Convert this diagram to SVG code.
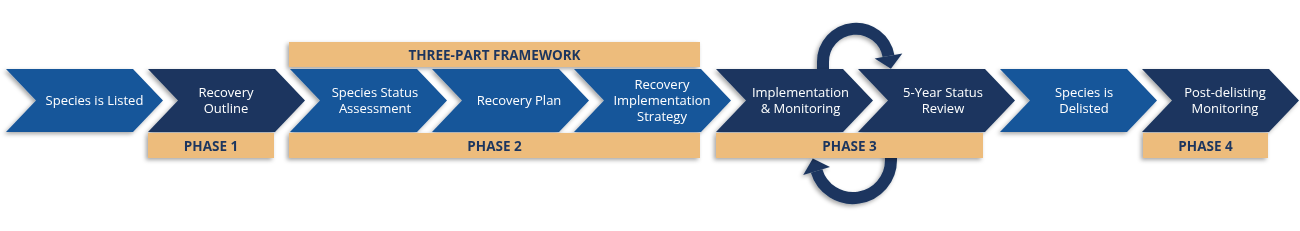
<svg xmlns="http://www.w3.org/2000/svg" width="1300" height="231" viewBox="0 0 1300 231">
<style>
.lt{fill:#17569a}
.dk{fill:#1b365f}
.gold{fill:#edbc7c}
.t{font-family:"Open Sans","Noto Sans",sans-serif;font-size:13px;fill:#ffffff;text-anchor:middle}
.p{font-family:"Open Sans","Noto Sans",sans-serif;font-size:13.5px;font-weight:bold;fill:#1b365f;text-anchor:middle}
.arc{fill:none;stroke:#1b365f;stroke-width:12}
</style>
<defs>
<filter id="sh" x="-10%" y="-20%" width="120%" height="150%">
<feDropShadow dx="-2" dy="2" stdDeviation="2" flood-color="#000000" flood-opacity="0.35"/>
</filter>
<path id="chev" d="M0,69 L127,69 L157,100.5 L127,132 L0,132 L30,100.5 Z"/>
</defs>
<rect width="1300" height="231" fill="#ffffff"/>
<g id="connectors" filter="url(#sh)">
<path class="arc" d="M823,74 L823,62 A33,33 0 0 1 888.5,56"/>
<polygon fill="#1b365f" points="874.7,58.5 902.3,53.5 890.9,68.8"/>
<path class="arc" d="M891,154 L891,160 A38,38 0 0 1 816.6,171"/>
<polygon fill="#1b365f" points="803.2,175 830,167 812.8,158.6"/>
</g>
<g id="framework" filter="url(#sh)">
<rect class="gold" x="289" y="42" width="411" height="25"/>
<text class="p" x="494.5" y="59.5">THREE-PART FRAMEWORK</text>
</g>
<g id="n1" filter="url(#sh)">
<use href="#chev" class="lt" x="6"/>
<text class="t" x="94.5" y="105">Species is Listed</text>
</g>
<g id="n2" filter="url(#sh)">
<use href="#chev" class="dk" x="148"/>
<text class="t" x="226" y="97">Recovery</text>
<text class="t" x="226" y="113">Outline</text>
</g>
<g id="n3" filter="url(#sh)">
<use href="#chev" class="lt" x="290"/>
<text class="t" x="375" y="97">Species Status</text>
<text class="t" x="375" y="113">Assessment</text>
</g>
<g id="n4" filter="url(#sh)">
<use href="#chev" class="lt" x="432"/>
<text class="t" x="519" y="105">Recovery Plan</text>
</g>
<g id="n5" filter="url(#sh)">
<use href="#chev" class="lt" x="574"/>
<text class="t" x="662" y="89">Recovery</text>
<text class="t" x="662" y="105">Implementation</text>
<text class="t" x="662" y="121">Strategy</text>
</g>
<g id="n6" filter="url(#sh)">
<use href="#chev" class="dk" x="716"/>
<text class="t" x="800.5" y="97">Implementation</text>
<text class="t" x="800.5" y="113">&amp; Monitoring</text>
</g>
<g id="n7" filter="url(#sh)">
<use href="#chev" class="dk" x="858"/>
<text class="t" x="943" y="97">5-Year Status</text>
<text class="t" x="943" y="113">Review</text>
</g>
<g id="n8" filter="url(#sh)">
<use href="#chev" class="lt" x="1000"/>
<text class="t" x="1084" y="97">Species is</text>
<text class="t" x="1084" y="113">Delisted</text>
</g>
<g id="n9" filter="url(#sh)">
<use href="#chev" class="dk" x="1142"/>
<text class="t" x="1225" y="97">Post-delisting</text>
<text class="t" x="1225" y="113">Monitoring</text>
</g>
<g id="phase1" filter="url(#sh)">
<rect class="gold" x="148" y="133" width="126" height="25"/>
<text class="p" x="211" y="150.5">PHASE 1</text>
</g>
<g id="phase2" filter="url(#sh)">
<rect class="gold" x="289" y="133" width="411" height="25"/>
<text class="p" x="494.5" y="150.5">PHASE 2</text>
</g>
<g id="phase3" filter="url(#sh)">
<rect class="gold" x="716" y="133" width="267" height="25"/>
<text class="p" x="849.5" y="150.5">PHASE 3</text>
</g>
<g id="phase4" filter="url(#sh)">
<rect class="gold" x="1143" y="133" width="125" height="25"/>
<text class="p" x="1205.5" y="150.5">PHASE 4</text>
</g>
</svg>
